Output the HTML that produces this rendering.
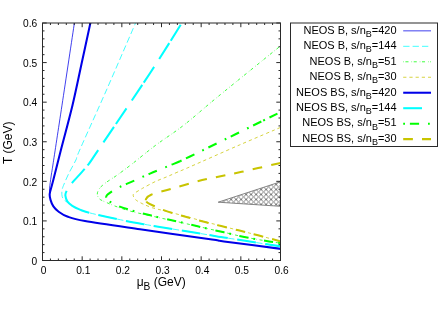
<!DOCTYPE html>
<html><head><meta charset="utf-8"><title>plot</title>
<style>html,body{margin:0;padding:0;background:#fff;}svg{display:block;font-family:"Liberation Sans",sans-serif;will-change:transform;}</style>
</head><body>
<svg width="443" height="310" viewBox="0 0 443 310">
<defs><pattern id="h" width="5" height="5" patternUnits="userSpaceOnUse" patternTransform="translate(1.1,4.45)"><path d="M-1,-1L6,6M-1,6L6,-1" stroke="#747474" stroke-width="0.95" fill="none"/></pattern>
<clipPath id="c"><rect x="42.50" y="23.00" width="238.00" height="237.50"/></clipPath></defs>
<rect width="443" height="310" fill="#fff"/>
<g clip-path="url(#c)" fill="none">
<path d="M218.2,202.2 L280.5,181.8 L280.5,206.3 Z" fill="url(#h)" stroke="#787878" stroke-width="0.9"/>
<path d="M49.70,194.00 C49.67,193.33 49.47,191.45 49.50,190.00 C49.53,188.55 49.55,188.13 49.90,185.30 C50.25,182.47 51.10,176.38 51.60,173.00 C52.10,169.62 51.17,176.30 52.90,165.00 C54.63,153.70 58.39,129.03 62.00,105.20 C65.61,81.37 72.46,35.87 74.55,22.00" stroke="#0000e8" stroke-width="0.75"/>
<path d="M281.00,246.40 C271.50,244.92 236.67,239.52 224.00,237.50 C211.33,235.48 218.40,236.52 205.00,234.30 C191.60,232.08 158.30,226.75 143.60,224.20 C128.90,221.65 125.78,220.88 116.80,219.00 C107.82,217.12 95.85,214.47 89.70,212.90 C83.55,211.33 82.80,210.78 79.90,209.60 C77.00,208.42 74.32,207.00 72.30,205.80 C70.28,204.60 69.05,203.27 67.80,202.40 C66.55,201.53 65.73,201.55 64.80,200.60 C63.87,199.65 62.67,198.42 62.20,196.70 C61.73,194.98 61.68,192.42 62.00,190.30 C62.32,188.18 62.90,186.95 64.10,184.00 C65.30,181.05 67.23,176.60 69.20,172.60 C71.17,168.60 74.15,163.77 75.90,160.00 C77.65,156.23 74.60,161.67 79.70,150.00 C84.80,138.33 97.12,111.33 106.50,90.00 C115.88,68.67 131.08,33.33 136.00,22.00" stroke="#00ffff" stroke-width="0.75" stroke-dasharray="6.3,3.1"/>
<path d="M281.00,243.20 C279.00,242.90 275.12,242.43 269.00,241.40 C262.88,240.37 251.80,238.52 244.30,237.00 C236.80,235.48 231.30,233.97 224.00,232.30 C216.70,230.63 208.40,228.80 200.50,227.00 C192.60,225.20 184.78,223.33 176.60,221.50 C168.42,219.67 159.18,217.75 151.40,216.00 C143.62,214.25 136.00,212.67 129.90,211.00 C123.80,209.33 118.80,207.47 114.80,206.00 C110.80,204.53 108.43,203.37 105.90,202.20 C103.37,201.03 101.03,200.37 99.60,199.00 C98.17,197.63 97.30,195.78 97.30,194.00 C97.30,192.22 98.38,190.03 99.60,188.30 C100.82,186.57 102.70,185.12 104.60,183.60 C106.50,182.08 108.88,180.63 111.00,179.20 C113.12,177.77 113.80,177.53 117.30,175.00 C120.80,172.47 125.55,169.00 132.00,164.00 C138.45,159.00 147.33,151.50 156.00,145.00 C164.67,138.50 173.67,133.07 184.00,125.00 C194.33,116.93 202.02,109.70 218.00,96.60 C233.98,83.50 269.40,54.92 279.90,46.40 C290.40,37.88 280.82,45.65 281.00,45.50" stroke="#00ff00" stroke-width="0.75" stroke-dasharray="0.6,1.63,3.07,2.97"/>
<path d="M281.00,241.50 C277.18,240.47 265.18,237.17 258.10,235.30 C251.02,233.43 246.80,232.42 238.50,230.30 C230.20,228.18 217.72,225.08 208.30,222.60 C198.88,220.12 189.32,217.37 182.00,215.40 C174.68,213.43 169.32,212.07 164.40,210.80 C159.48,209.53 156.13,208.97 152.50,207.80 C148.87,206.63 145.42,205.15 142.60,203.80 C139.78,202.45 137.17,201.08 135.60,199.70 C134.03,198.32 133.38,196.57 133.20,195.50 C133.02,194.43 133.40,194.23 134.50,193.30 C135.60,192.37 138.07,190.95 139.80,189.90 C141.53,188.85 142.30,188.40 144.90,187.00 C147.50,185.60 151.78,183.18 155.40,181.50 C159.02,179.82 162.98,178.43 166.60,176.90 C170.22,175.37 173.20,173.98 177.10,172.30 C181.00,170.62 179.62,171.35 190.00,166.80 C200.38,162.25 224.23,151.60 239.40,145.00 C254.57,138.40 274.07,130.17 281.00,127.20" stroke="#c8c400" stroke-width="0.75" stroke-dasharray="3.2,3.0"/>
<path d="M281.00,248.90 C271.50,247.65 235.50,242.95 224.00,241.40 C212.50,239.85 226.00,241.62 212.00,239.60 C198.00,237.58 161.17,232.40 140.00,229.30 C118.83,226.20 97.12,223.13 85.00,221.00 C72.88,218.87 71.73,218.08 67.30,216.50 C62.87,214.92 60.72,213.18 58.40,211.50 C56.08,209.82 54.70,208.30 53.40,206.40 C52.10,204.50 51.22,202.17 50.60,200.10 C49.98,198.03 49.48,196.47 49.70,194.00 C49.92,191.53 50.98,188.87 51.90,185.30 C52.82,181.73 54.33,175.98 55.20,172.60 C56.07,169.22 56.15,168.77 57.10,165.00 C58.05,161.23 58.33,159.97 60.90,150.00 C63.47,140.03 69.07,119.53 72.50,105.20 C75.93,90.87 78.48,77.87 81.50,64.00 C84.52,50.13 89.08,29.00 90.60,22.00" stroke="#0000e8" stroke-width="2.05"/>
<path d="M281.00,246.40 C271.50,244.92 236.67,239.52 224.00,237.50 C211.33,235.48 218.40,236.52 205.00,234.30 C191.60,232.08 158.30,226.75 143.60,224.20 C128.90,221.65 125.78,220.88 116.80,219.00 C107.82,217.12 95.85,214.47 89.70,212.90 C83.55,211.33 82.80,210.78 79.90,209.60 C77.00,208.42 74.40,207.17 72.30,205.80 C70.20,204.43 68.45,203.08 67.30,201.40 C66.15,199.72 65.57,197.33 65.40,195.70 C65.23,194.07 65.25,193.65 66.30,191.60 C67.35,189.55 68.23,187.67 71.70,183.40 C75.17,179.13 82.67,171.57 87.10,166.00 C91.53,160.43 87.68,165.67 98.30,150.00 C108.92,134.33 136.78,93.33 150.80,72.00 C164.82,50.67 177.13,30.33 182.40,22.00" stroke="#00ffff" stroke-width="2.05" stroke-dasharray="16.09,9.40,18.80,9.40,18.80,9.40,18.80,9.40,18.80,9.40,18.80,9.40,18.80,9.40,36.29,9.40,18.80,4.61,18.80,9.40,18.80,3.37,18.80,9.40,18.80,2.76,18.80,9.40,18.80,2.91,18.80,53.36"/>
<path d="M281.00,243.20 C279.00,242.90 275.12,242.43 269.00,241.40 C262.88,240.37 251.80,238.52 244.30,237.00 C236.80,235.48 231.30,233.97 224.00,232.30 C216.70,230.63 208.40,228.83 200.50,227.00 C192.60,225.17 184.78,223.20 176.60,221.30 C168.42,219.40 158.55,217.32 151.40,215.60 C144.25,213.88 138.97,212.50 133.70,211.00 C128.43,209.50 123.63,208.07 119.80,206.60 C115.97,205.13 112.97,203.83 110.70,202.20 C108.43,200.57 106.15,198.48 106.20,196.80 C106.25,195.12 108.68,193.77 111.00,192.10 C113.32,190.43 116.42,188.63 120.10,186.80 C123.78,184.97 128.12,183.30 133.10,181.10 C138.08,178.90 143.88,176.22 150.00,173.60 C156.12,170.98 163.13,168.25 169.80,165.40 C176.47,162.55 171.47,165.43 190.00,156.50 C208.53,147.57 265.83,119.25 281.00,111.80" stroke="#00ff00" stroke-width="2.05" stroke-dasharray="0.00,1.34,1.80,4.90,9.20,8.90,1.80,4.90,9.20,8.90,1.80,4.90,9.20,8.90,1.80,4.90,9.20,8.90,1.80,4.90,9.20,8.90,1.80,4.90,9.20,8.90,1.80,4.90,9.20,8.90,1.80,4.90,9.20,8.90,1.80,4.90,9.20,8.90,1.80,4.90,9.20,8.90,1.80,4.90,9.20,0.12,1.80,4.90,9.20,8.90,1.80,4.90,9.20,8.90,1.80,4.90,9.20,8.90,1.80,4.90,9.20,2.12,1.80,4.90,9.20,54.18"/>
<path d="M281.00,241.50 C277.18,240.47 265.18,237.17 258.10,235.30 C251.02,233.43 246.80,232.37 238.50,230.30 C230.20,228.23 217.72,225.33 208.30,222.90 C198.88,220.47 189.32,217.78 182.00,215.70 C174.68,213.62 168.78,211.92 164.40,210.40 C160.02,208.88 158.50,207.87 155.70,206.60 C152.90,205.33 149.20,204.08 147.60,202.80 C146.00,201.52 145.43,200.28 146.10,198.90 C146.77,197.52 147.65,196.12 151.60,194.50 C155.55,192.88 163.47,191.03 169.80,189.20 C176.13,187.37 182.98,185.28 189.60,183.50 C196.22,181.72 200.82,180.45 209.50,178.50 C218.18,176.55 229.78,174.42 241.70,171.80 C253.62,169.18 274.45,164.30 281.00,162.80" stroke="#c8c400" stroke-width="2.05" stroke-dasharray="9.28,9.10,9.70,9.10,9.70,9.10,9.70,9.10,9.70,9.10,9.70,9.10,9.70,9.10,9.70,1.41,9.70,9.10,9.70,9.10,9.70,9.10,9.70,9.10,9.70,9.10,9.70,9.10,9.70,9.10,9.70,50.68"/>
</g>
<path d="M42.50,260.50 v-4.20 M42.50,23.00 v4.20 M42.50,260.50 h4.20 M280.50,260.50 h-4.20 M50.43,260.50 v-2.00 M50.43,23.00 v2.00 M42.50,252.58 h2.00 M280.50,252.58 h-2.00 M58.37,260.50 v-2.00 M58.37,23.00 v2.00 M42.50,244.67 h2.00 M280.50,244.67 h-2.00 M66.30,260.50 v-2.00 M66.30,23.00 v2.00 M42.50,236.75 h2.00 M280.50,236.75 h-2.00 M74.23,260.50 v-2.00 M74.23,23.00 v2.00 M42.50,228.83 h2.00 M280.50,228.83 h-2.00 M82.17,260.50 v-4.20 M82.17,23.00 v4.20 M42.50,220.92 h4.20 M280.50,220.92 h-4.20 M90.10,260.50 v-2.00 M90.10,23.00 v2.00 M42.50,213.00 h2.00 M280.50,213.00 h-2.00 M98.03,260.50 v-2.00 M98.03,23.00 v2.00 M42.50,205.08 h2.00 M280.50,205.08 h-2.00 M105.97,260.50 v-2.00 M105.97,23.00 v2.00 M42.50,197.17 h2.00 M280.50,197.17 h-2.00 M113.90,260.50 v-2.00 M113.90,23.00 v2.00 M42.50,189.25 h2.00 M280.50,189.25 h-2.00 M121.83,260.50 v-4.20 M121.83,23.00 v4.20 M42.50,181.33 h4.20 M280.50,181.33 h-4.20 M129.77,260.50 v-2.00 M129.77,23.00 v2.00 M42.50,173.42 h2.00 M280.50,173.42 h-2.00 M137.70,260.50 v-2.00 M137.70,23.00 v2.00 M42.50,165.50 h2.00 M280.50,165.50 h-2.00 M145.63,260.50 v-2.00 M145.63,23.00 v2.00 M42.50,157.58 h2.00 M280.50,157.58 h-2.00 M153.57,260.50 v-2.00 M153.57,23.00 v2.00 M42.50,149.67 h2.00 M280.50,149.67 h-2.00 M161.50,260.50 v-4.20 M161.50,23.00 v4.20 M42.50,141.75 h4.20 M280.50,141.75 h-4.20 M169.43,260.50 v-2.00 M169.43,23.00 v2.00 M42.50,133.83 h2.00 M280.50,133.83 h-2.00 M177.37,260.50 v-2.00 M177.37,23.00 v2.00 M42.50,125.92 h2.00 M280.50,125.92 h-2.00 M185.30,260.50 v-2.00 M185.30,23.00 v2.00 M42.50,118.00 h2.00 M280.50,118.00 h-2.00 M193.23,260.50 v-2.00 M193.23,23.00 v2.00 M42.50,110.08 h2.00 M280.50,110.08 h-2.00 M201.17,260.50 v-4.20 M201.17,23.00 v4.20 M42.50,102.17 h4.20 M280.50,102.17 h-4.20 M209.10,260.50 v-2.00 M209.10,23.00 v2.00 M42.50,94.25 h2.00 M280.50,94.25 h-2.00 M217.03,260.50 v-2.00 M217.03,23.00 v2.00 M42.50,86.33 h2.00 M280.50,86.33 h-2.00 M224.97,260.50 v-2.00 M224.97,23.00 v2.00 M42.50,78.42 h2.00 M280.50,78.42 h-2.00 M232.90,260.50 v-2.00 M232.90,23.00 v2.00 M42.50,70.50 h2.00 M280.50,70.50 h-2.00 M240.83,260.50 v-4.20 M240.83,23.00 v4.20 M42.50,62.58 h4.20 M280.50,62.58 h-4.20 M248.77,260.50 v-2.00 M248.77,23.00 v2.00 M42.50,54.67 h2.00 M280.50,54.67 h-2.00 M256.70,260.50 v-2.00 M256.70,23.00 v2.00 M42.50,46.75 h2.00 M280.50,46.75 h-2.00 M264.63,260.50 v-2.00 M264.63,23.00 v2.00 M42.50,38.83 h2.00 M280.50,38.83 h-2.00 M272.57,260.50 v-2.00 M272.57,23.00 v2.00 M42.50,30.92 h2.00 M280.50,30.92 h-2.00 M280.50,260.50 v-4.20 M280.50,23.00 v4.20 M42.50,23.00 h4.20 M280.50,23.00 h-4.20" stroke="#111" stroke-width="0.9" fill="none"/>
<rect x="42.50" y="23.00" width="238.00" height="237.50" fill="none" stroke="#2a2a2a" stroke-width="1"/>
<g font-family="Liberation Sans, sans-serif" font-size="10.2" fill="#000">
<text x="43.60" y="273.90" text-anchor="middle">0</text>
<text x="37.20" y="264.70" text-anchor="end">0</text>
<text x="83.27" y="273.90" text-anchor="middle">0.1</text>
<text x="37.20" y="225.12" text-anchor="end">0.1</text>
<text x="122.93" y="273.90" text-anchor="middle">0.2</text>
<text x="37.20" y="185.53" text-anchor="end">0.2</text>
<text x="162.60" y="273.90" text-anchor="middle">0.3</text>
<text x="37.20" y="145.95" text-anchor="end">0.3</text>
<text x="202.27" y="273.90" text-anchor="middle">0.4</text>
<text x="37.20" y="106.37" text-anchor="end">0.4</text>
<text x="241.93" y="273.90" text-anchor="middle">0.5</text>
<text x="37.20" y="66.78" text-anchor="end">0.5</text>
<text x="281.60" y="273.90" text-anchor="middle">0.6</text>
<text x="37.20" y="27.20" text-anchor="end">0.6</text>
<text transform="translate(12.4,142.8) rotate(-90)" text-anchor="middle" font-size="12">T (GeV)</text>
<text x="136.7" y="285.9" font-size="12">μ<tspan font-size="10.2" dy="4.2">B</tspan><tspan dy="-4.2"> (GeV)</tspan></text>
<rect x="290.50" y="23.00" width="147.00" height="123.50" fill="#fff" stroke="#2a2a2a" stroke-width="1"/>
<text x="396.6" y="33.65" text-anchor="end" font-size="11">NEOS B, s/n<tspan font-size="9" dy="3.1">B</tspan><tspan dy="-3.1">=420</tspan></text>
<path d="M403.2,30.85 H431" stroke="#0000e8" stroke-width="0.75" fill="none"/>
<text x="396.6" y="49.12" text-anchor="end" font-size="11">NEOS B, s/n<tspan font-size="9" dy="3.1">B</tspan><tspan dy="-3.1">=144</tspan></text>
<path d="M403.2,46.32 H431" stroke="#00ffff" stroke-width="0.75" stroke-dasharray="6.3,3.1" fill="none"/>
<text x="396.6" y="64.59" text-anchor="end" font-size="11">NEOS B, s/n<tspan font-size="9" dy="3.1">B</tspan><tspan dy="-3.1">=51</tspan></text>
<path d="M403.2,61.79 H431" stroke="#00ff00" stroke-width="0.75" stroke-dasharray="0.6,1.63,3.07,2.97" fill="none"/>
<text x="396.6" y="80.06" text-anchor="end" font-size="11">NEOS B, s/n<tspan font-size="9" dy="3.1">B</tspan><tspan dy="-3.1">=30</tspan></text>
<path d="M403.2,77.26 H431" stroke="#c8c400" stroke-width="0.75" stroke-dasharray="3.2,3.0" fill="none"/>
<text x="396.6" y="95.53" text-anchor="end" font-size="11">NEOS BS, s/n<tspan font-size="9" dy="3.1">B</tspan><tspan dy="-3.1">=420</tspan></text>
<path d="M403.2,92.73 H431" stroke="#0000e8" stroke-width="2.05" fill="none"/>
<text x="396.6" y="111.00" text-anchor="end" font-size="11">NEOS BS, s/n<tspan font-size="9" dy="3.1">B</tspan><tspan dy="-3.1">=144</tspan></text>
<path d="M403.2,108.20 H431" stroke="#00ffff" stroke-width="2.05" stroke-dasharray="18.8,9.4" fill="none"/>
<text x="396.6" y="126.47" text-anchor="end" font-size="11">NEOS BS, s/n<tspan font-size="9" dy="3.1">B</tspan><tspan dy="-3.1">=51</tspan></text>
<path d="M403.2,123.67 H431" stroke="#00ff00" stroke-width="2.05" stroke-dasharray="1.8,4.9,9.2,8.9" fill="none"/>
<text x="396.6" y="141.94" text-anchor="end" font-size="11">NEOS BS, s/n<tspan font-size="9" dy="3.1">B</tspan><tspan dy="-3.1">=30</tspan></text>
<path d="M403.2,139.14 H431" stroke="#c8c400" stroke-width="2.05" stroke-dasharray="9.7,9.1" fill="none"/>
</g>
</svg>
</body></html>
